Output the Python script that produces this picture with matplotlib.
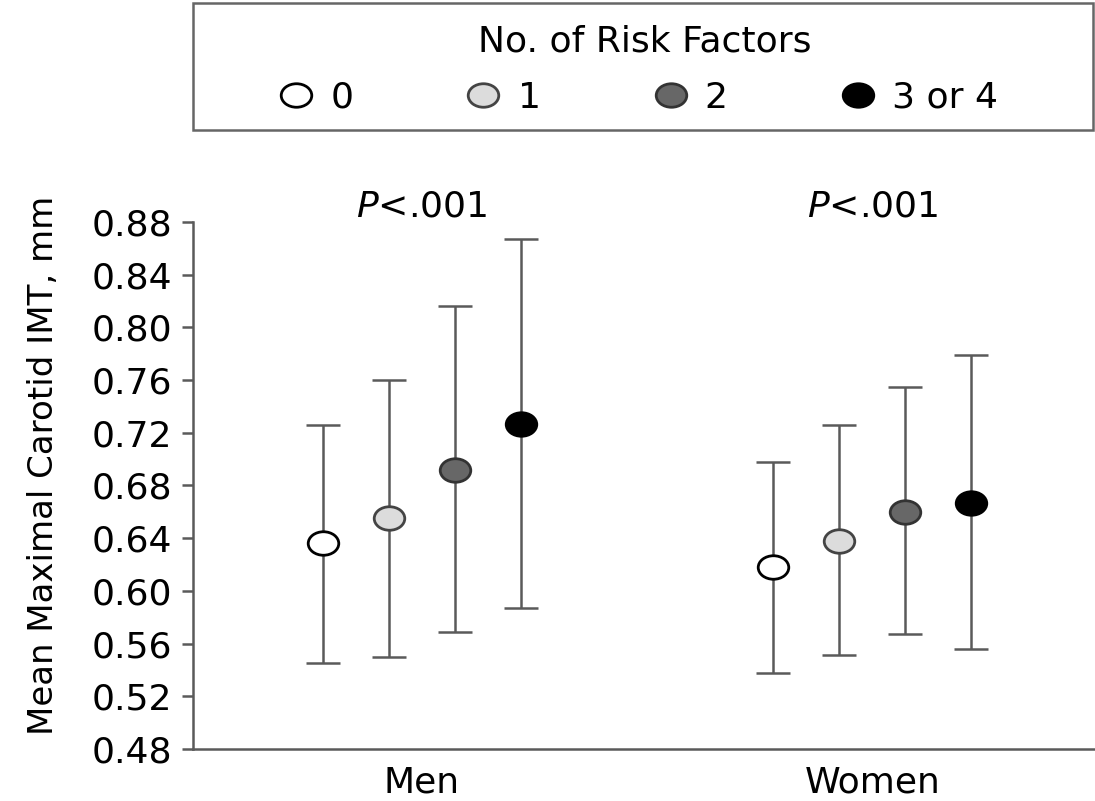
import numpy as np
import matplotlib
matplotlib.use("Agg")
import matplotlib.pyplot as plt
from matplotlib.path import Path
from matplotlib.lines import Line2D
from matplotlib.patches import Rectangle

plt.rcParams['font.family'] = ['DejaVu Sans']
plt.rcParams['mathtext.fontset'] = 'dejavusans'

groups = ["Men", "Women"]
risk_labels = ["0", "1", "2", "3 or 4"]
means = {"Men": [0.636, 0.655, 0.692, 0.727], "Women": [0.618, 0.638, 0.660, 0.667]}
upper = {"Men": [0.726, 0.760, 0.816, 0.867], "Women": [0.698, 0.726, 0.755, 0.779]}
lower = {"Men": [0.545, 0.550, 0.569, 0.587], "Women": [0.538, 0.551, 0.567, 0.556]}
p_texts = ["<.001", "<.001"]
face_colors = ["white", "#dcdcdc", "#676767", "black"]
edge_colors = ["black", "#444444", "#333333", "black"]
yticks = [0.48, 0.52, 0.56, 0.60, 0.64, 0.68, 0.72, 0.76, 0.80, 0.84, 0.88]

# elliptical marker (the reference is horizontally stretched)
circ = Path.unit_circle()
ell = Path(circ.vertices * np.array([1.3, 1.0]), circ.codes)

W, H = 1095, 801
FS = 26
fig = plt.figure(figsize=(W / 100, H / 100), dpi=100)
ax = fig.add_axes([193 / W, 1 - 749 / H, (W - 193) / W, (749 - 222) / H])

offsets = [-1.5, -0.5, 0.5, 1.5]
step = 0.1465
axis_grey = "#5a5a5a"
for gi, g in enumerate(groups):
    for k in range(4):
        x = gi + offsets[k] * step
        m = means[g][k]
        ax.errorbar([x], [m], yerr=[[m - lower[g][k]], [upper[g][k] - m]],
                    fmt='none', ecolor=axis_grey, elinewidth=1.8, capsize=12.5,
                    capthick=1.8, zorder=2)
        ax.plot([x], [m], linestyle='none', marker=ell, markersize=22,
                markerfacecolor=face_colors[k], markeredgecolor=edge_colors[k],
                markeredgewidth=2, zorder=3)
    ax.text(gi, 0.8915, "$\\it{P}$" + p_texts[gi], ha='center', va='center',
            fontsize=FS, clip_on=False)

ax.set_xlim(-0.508, 1.494)
ax.set_ylim(0.48, 0.88)
ax.set_yticks(yticks)
ax.set_yticklabels([f"{v:.2f}" for v in yticks])
ax.set_xticks([0, 1])
ax.set_xticklabels(groups)
ax.tick_params(axis='y', length=8, width=1.8, color=axis_grey, labelsize=FS, pad=7)
ax.tick_params(axis='x', length=0, labelsize=FS, pad=12)
for s in ['top', 'right']:
    ax.spines[s].set_visible(False)
for s in ['left', 'bottom']:
    ax.spines[s].set_color(axis_grey)
    ax.spines[s].set_linewidth(1.8)
ax.set_ylabel("Mean Maximal Carotid IMT, mm", fontsize=24.5)
ax.yaxis.set_label_coords(-0.1475, 0.539)

# legend box with title and entries
fig.patches.append(Rectangle((193 / W, 1 - 130 / H), 900 / W, 127 / H,
                             transform=fig.transFigure, facecolor='white',
                             edgecolor='#666666', linewidth=1.8))
fig.text(645 / W, 1 - 42 / H, "No. of Risk Factors", ha='center', va='center',
         fontsize=FS)
handles = [Line2D([], [], linestyle='none', marker=ell, markersize=22,
                  markerfacecolor=face_colors[k], markeredgecolor=edge_colors[k],
                  markeredgewidth=2) for k in range(4)]
leg = fig.legend(handles, risk_labels, ncol=4,
                 loc='center', bbox_to_anchor=(638 / W, 1 - 98 / H),
                 frameon=False, fontsize=FS,
                 handlelength=1.0, handletextpad=0.45, columnspacing=3.1)

fig.savefig("out.png", dpi=100)
